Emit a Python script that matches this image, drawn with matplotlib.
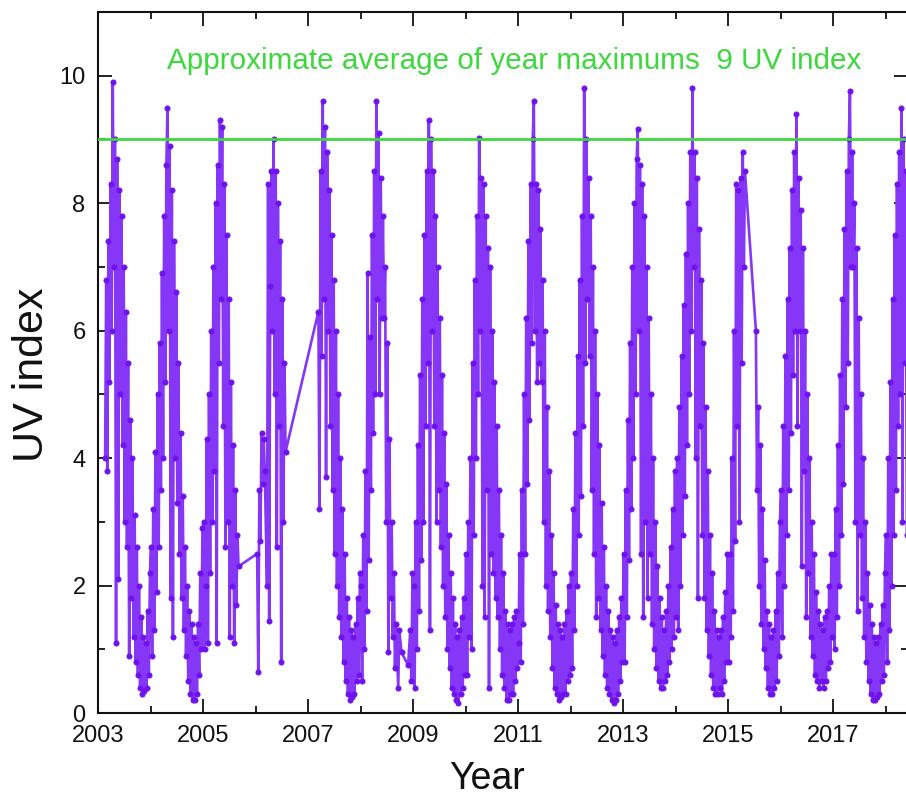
import numpy as np
import matplotlib
matplotlib.use("Agg")
import matplotlib.pyplot as plt
from matplotlib.ticker import MultipleLocator, FixedLocator

plt.rcParams['font.family'] = ['Liberation Sans', 'DejaVu Sans']

N = None
# Weekly readings (48 per year) of the daily UV index.
uv_2003 = [N, N, N, N, N, N, 4.0, 6.8, 3.8, 7.4, 5.2, 8.3, 6.0, 9.9, 7.0, 9.0, 1.1, 8.7, 2.1, 8.2, 5.0, 7.8, 4.2, 7.0,
           3.0, 6.3, 2.6, 5.5, 0.9, 4.6, 1.8, 4.0, 1.2, 3.1, 0.8, 2.6, 0.6, 2.0, 0.4, 1.5, 0.3, 1.2, 0.35, 1.1, 0.4, 1.6, 0.6, 2.2]
uv_2004 = [2.6, 0.9, 3.2, 1.3, 4.1, 1.9, 5.0, 2.6, 5.8, 3.5, 6.9, 4.0, 7.8, 5.2, 8.6, 9.5, 6.0, 8.9, 1.8, 8.2, 1.2, 7.4, 4.0, 6.6,
           3.3, 5.5, 2.5, 4.4, 1.8, 3.4, 1.3, 2.6, 0.9, 2.0, 0.5, 1.6, 0.3, 1.4, 0.2, 1.2, 0.2, 1.1, 0.3, 1.4, 0.6, 2.2, 1.0, 2.9]
uv_2005 = [3.0, 1.0, 2.0, 4.3, 1.1, 5.0, 2.2, 6.0, 3.0, 7.0, 3.8, 8.0, 1.1, 8.6, 5.5, 9.3, 6.5, 9.2, 4.5, 8.3, 2.6, 7.5, 3.0, 6.5,
           1.2, 5.2, 2.0, 4.2, 1.1, 3.5, 1.7, 2.8, 2.3, N, N, N, N, N, N, N, N, N, N, N, N, N, N, N]
uv_2006 = [N, 2.5, 0.65, 3.5, 2.7, 4.4, 3.6, 4.3, 3.8, N, 2.0, 8.3, 1.45, 6.7, 8.5, 6.0, 9.0, 5.0, 8.5, 2.6, 8.0, 4.5, 7.4, 0.8,
           6.5, 3.0, 5.5, 4.1, N, N, N, N, N, N, N, N, N, N, N, N, N, N, N, N, N, N, N, N]
uv_2007 = [N, N, N, N, N, N, N, N, N, 6.3, 3.2, 8.5, 5.6, 9.6, 6.5, 9.2, 3.7, 8.8, 6.0, 8.2, 4.5, 7.5, 3.5, 6.8,
           2.5, 6.0, 2.0, 5.0, 1.5, 4.0, 1.2, 3.2, 0.8, 2.5, 0.5, 1.8, 0.3, 1.5, 0.2, 1.3, 0.25, 1.2, 0.3, 1.4, 0.5, 1.8, 0.6, 2.2]
uv_2008 = [2.0, 0.5, 2.8, 1.0, 3.8, 1.6, 6.9, 2.4, 5.9, 3.5, 7.5, 4.4, 8.5, 5.0, 9.6, 6.5, 9.1, 5.0, 8.4, 6.2, 7.8, 6.2, 7.0, 3.0,
           5.8, 0.95, 4.3, 1.8, 3.0, 1.2, 2.2, 0.7, 1.4, N, 0.4, 1.3, N, 0.95, N, N, N, N, N, 0.75, N, 1.3, 0.5, 2.2]
uv_2009 = [2.0, 0.4, 3.0, 1.0, 4.2, 1.6, 5.3, 2.4, 6.5, 3.0, 7.5, 4.5, 8.5, 5.5, 9.3, 1.3, 9.0, 6.0, 8.5, 4.5, 7.8, 3.0, 7.0, 3.5,
           6.2, 2.6, 5.3, 2.0, 4.4, 1.5, 3.6, 1.0, 2.8, 0.7, 2.2, 0.4, 1.8, 0.3, 1.4, 0.2, 1.2, 0.15, 1.3, 0.3, 1.5, 0.4, 1.8, 0.6]
uv_2010 = [2.5, 0.6, 3.0, 1.2, 4.0, 1.0, 5.5, 2.8, 6.8, 4.0, 7.8, 5.0, 9.03, 6.0, 8.4, 2.0, 8.3, 1.5, 7.8, 3.5, 7.3, 0.4, 7.0, 2.5,
           6.0, 2.2, 5.2, 1.8, 4.5, 1.5, 3.5, 1.0, 2.8, 0.6, 2.2, 0.4, 1.6, 0.2, 1.4, 0.2, 1.3, 0.3, 1.4, 0.3, 1.5, 0.5, 1.6, 0.7]
uv_2011 = [1.1, 2.5, 0.8, 3.5, 1.4, 5.0, 2.5, 6.2, 3.6, 7.4, 4.6, 8.3, 5.8, 9.0, 9.6, 6.0, 8.3, 5.2, 8.2, 5.5, 7.6, 5.2, 6.8, 3.0,
           6.0, 2.0, 4.8, 1.6, 3.8, 1.2, 2.8, 0.7, 2.2, 0.4, 1.7, 0.3, 1.4, 0.2, 1.3, 0.25, 1.2, 0.3, 1.4, 0.3, 1.6, 0.5, 2.0, 0.6]
uv_2012 = [2.2, 0.7, 3.2, 1.3, 4.4, 2.0, 5.6, 2.8, 6.8, 3.4, 7.8, 4.5, 9.8, 5.5, 9.0, 6.5, 8.4, 5.6, 7.8, 3.5, 7.0, 2.5, 6.0, 1.5,
           5.0, 1.8, 4.2, 1.3, 3.3, 0.9, 2.6, 0.6, 2.0, 0.4, 1.6, 0.3, 1.3, 0.2, 1.2, 0.15, 1.1, 0.2, 1.3, 0.3, 1.5, 0.5, 1.8, 0.8]
uv_2013 = [2.5, 0.8, 3.5, 1.5, 4.6, 2.4, 5.8, 3.2, 7.0, 4.0, 8.0, 5.0, 8.7, 9.16, 6.0, 8.6, 2.5, 8.3, 1.5, 7.8, 3.0, 7.0, 1.8, 6.2,
           2.5, 5.0, 1.4, 4.0, 1.0, 3.0, 0.7, 2.3, 0.5, 1.8, 0.4, 1.5, 0.4, 1.3, 0.5, 1.6, 0.6, 2.0, 0.8, 2.6, 1.0, 3.2, 1.2, 3.8]
uv_2014 = [1.5, 4.0, 1.3, 4.8, 2.0, 5.6, 2.8, 6.4, 3.4, 7.2, 4.2, 8.0, 5.0, 8.8, 6.0, 9.8, 7.0, 8.8, 4.0, 8.4, 1.8, 7.6, 4.5, 6.8,
           2.8, 5.8, 1.8, 4.8, 1.3, 3.8, 0.9, 2.8, 0.6, 2.2, 0.4, 1.6, 0.3, 1.3, 0.3, 1.2, 0.4, 1.3, 0.3, 1.5, 0.5, 1.9, 0.8, 2.5]
uv_2015 = [0.8, 2.5, 1.2, 4.0, 1.6, 6.0, 2.7, 8.3, 4.5, 8.2, 3.0, 8.4, 5.5, 8.8, 7.0, 8.5, N, N, N, N, N, N, N, N,
           N, 6.0, 3.5, 4.8, 2.0, 4.2, 1.4, 3.2, 1.0, 2.4, 0.7, 1.6, 0.4, 1.4, 0.3, 1.2, 0.3, 1.3, 0.4, 1.6, 0.5, 2.2, 0.9, 3.0]
uv_2016 = [3.5, 1.2, 4.5, 2.0, 5.6, 2.8, 6.5, 3.5, 7.3, 4.4, 8.2, 5.3, 8.8, 6.0, 9.4, 4.5, 8.4, 6.0, 7.9, 2.3, 7.3, 3.8, 6.0, 1.5,
           5.0, 2.2, 4.0, 1.2, 3.0, 0.9, 2.5, 0.6, 1.9, 0.5, 1.6, 0.4, 1.4, 0.5, 1.3, 0.4, 1.5, 0.5, 1.6, 0.7, 2.0, 0.8, 2.5, 1.2]
uv_2017 = [2.5, 1.0, 3.2, 1.5, 4.2, 2.0, 5.3, 2.8, 6.5, 3.6, 7.6, 4.8, 8.5, 5.5, 9.0, 9.76, 7.0, 8.8, 7.0, 8.0, 3.0, 7.3, 1.6, 6.2,
           2.8, 5.0, 1.8, 4.0, 1.2, 3.0, 0.8, 2.2, 0.5, 1.7, 0.3, 1.4, 0.2, 1.2, 0.2, 1.1, 0.25, 1.2, 0.3, 1.4, 0.5, 1.7, 0.6, 2.2]
uv_2018 = [2.8, 0.8, 4.0, 1.3, 5.2, 2.0, 6.5, 2.8, 7.5, 3.5, 8.3, 4.5, 8.8, 5.0, 9.5, 3.0, 9.0, 5.5, 8.5, 2.8]

years = list(range(2003, 2019))
series = [uv_2003, uv_2004, uv_2005, uv_2006, uv_2007, uv_2008, uv_2009, uv_2010,
          uv_2011, uv_2012, uv_2013, uv_2014, uv_2015, uv_2016, uv_2017, uv_2018]
weeks_per_year = 48

avg_max = 9.0
note = "Approximate average of year maximums  9 UV index"
xtick_years = [2003, 2005, 2007, 2009, 2011, 2013, 2015, 2017]

t, v = [], []
for yr, vals in zip(years, series):
    for k, val in enumerate(vals):
        if val is not None:
            t.append(yr + (k + 0.5) / weeks_per_year)
            v.append(val)

fig = plt.figure(figsize=(9.06, 7.97), dpi=100)
ax = fig.add_axes([98 / 906, 84 / 797, 810 / 906, 701 / 797])

purple = '#6f12ee'
ax.plot(t, v, '-', color='#8636f6', lw=1.9, marker='o', ms=3.8,
        mfc=purple, mec=purple, mew=0.5, zorder=2)
green = '#3cd83c'
ax.axhline(avg_max, color=green, lw=2.0, zorder=3)
ax.text(2004.31, 10.1, note, color=green, fontsize=21.3, ha='left', va='baseline')

ax.set_xlim(2003, 2003 + 810 / 52.5)
ax.set_ylim(0, 11)
ax.xaxis.set_major_locator(FixedLocator(xtick_years))
ax.set_xticklabels([str(y) for y in xtick_years])
ax.xaxis.set_minor_locator(MultipleLocator(1))
ax.yaxis.set_major_locator(MultipleLocator(2))
ax.yaxis.set_minor_locator(MultipleLocator(1))
ax.tick_params(which='both', direction='in', top=True, right=True, width=1.3, colors='#111111')
ax.tick_params(which='major', length=10, labelsize=17, pad=9)
ax.tick_params(which='minor', length=5)
for s in ax.spines.values():
    s.set_linewidth(1.5)
    s.set_color('#111111')

fig.text(32 / 906, 1 - 375 / 797, 'UV index', rotation=90, ha='center', va='center', fontsize=31, color='#111111')
fig.text(487 / 906, 1 - 779 / 797, 'Year', ha='center', va='center', fontsize=27, color='#111111')

fig.savefig('out.png', dpi=100)
